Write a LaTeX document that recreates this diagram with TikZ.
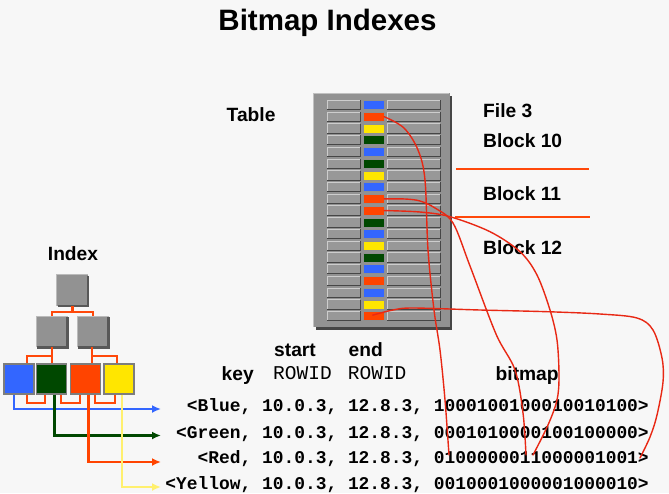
\documentclass[tikz,border=0pt]{standalone}
\usepackage{fontspec}
\setmainfont{Liberation Sans}
\setmonofont{Liberation Mono}
\usetikzlibrary{calc,arrows.meta}

\definecolor{bg}{RGB}{247,247,247}
\definecolor{panel}{RGB}{146,146,146}
\definecolor{slot}{RGB}{152,152,152}
\definecolor{slotlight}{RGB}{205,205,205}
\definecolor{slotdark}{RGB}{70,70,70}
\definecolor{kblue}{RGB}{51,102,255}
\definecolor{kgreen}{RGB}{0,72,0}
\definecolor{kred}{RGB}{255,68,0}
\definecolor{kyellow}{RGB}{255,230,0}
\definecolor{kyellowline}{RGB}{255,240,110}
\definecolor{link}{RGB}{255,72,10}
\definecolor{ink}{RGB}{232,40,20}

\begin{document}
\begin{tikzpicture}[x=1pt,y=-1pt,
  title/.style={font=\fontsize{29.5}{34}\selectfont\bfseries, inner sep=0, anchor=base},
  lbl/.style={font=\fontsize{19.2}{23}\selectfont\bfseries, inner sep=0, anchor=base west},
  monolbl/.style={font=\fontsize{19.5}{23}\selectfont\ttfamily, inner sep=0, anchor=base west},
  entry/.style={font=\fontsize{17.9}{21}\selectfont\ttfamily\bfseries, inner sep=0, anchor=base east},
  slotbox/.style={fill=slot, inner sep=0, minimum height=9pt},
  keycell/.style={inner sep=0, minimum width=20.5pt, minimum height=9pt, draw=slotdark!60, line width=0.6pt},
  greysq/.style={fill=panel, inner sep=0, minimum size=31pt},
  leaf/.style={draw={rgb,255:red,125;green,125;blue,125}, line width=1.6pt, inner sep=0, minimum size=30pt},
  treelink/.style={draw=link, line width=2.1pt},
  ptr/.style={line width=2.2pt, -{Latex[length=9pt,width=8pt]}},
  scribble/.style={draw=ink, line width=1.4pt, line cap=round, smooth, tension=0.55},
  blockline/.style={draw=link, line width=2.2pt}
]
\useasboundingbox[fill=bg] (0,0) rectangle (669,493);

% title
\node[title] (ttl) at (327.5,30) {Bitmap Indexes};

% ---------- table panel ----------
\fill[slotdark] (315.5,95.5) rectangle (452,329.5);
\fill[panel] (313,93) rectangle (449.5,327);
\draw[slotlight!80!panel, line width=0.8pt] (313.4,326.6) -- (313.4,93.4) -- (449.1,93.4);
\node[lbl] (tbl) at (226.5,121.7) {Table};

\foreach \c [count=\i from 0] in {kblue,kred,kyellow,kgreen,kblue,kgreen,kyellow,kblue,kred,kred,kgreen,kblue,kyellow,kgreen,kblue,kred,kblue,kyellow,kred}{
  \pgfmathsetmacro{\ry}{105+11.73*\i}
  % grey slots left and right of the key
  \node[slotbox, minimum width=32.7pt] (ls\i) at (343.6,\ry) {};
  \node[slotbox, minimum width=52.7pt] (rs\i) at (413.6,\ry) {};
  \foreach \s in {ls\i,rs\i}{
    \draw[slotlight, line width=0.8pt] (\s.south west) -- (\s.north west) -- (\s.north east);
    \draw[slotdark, line width=1pt] (\s.north east) -- (\s.south east) -- (\s.south west);
  }
  \node[keycell, fill=\c] (c\i) at (373.7,\ry) {};
}

% block labels and separators
\node[lbl] (f3) at (483,117.3) {File 3};
\node[lbl] (b10) at (483,147.3) {Block 10};
\node[lbl] (b11) at (483,200.7) {Block 11};
\node[lbl] (b12) at (483,254) {Block 12};
\draw[blockline] (456,169.3) -- (589,169.3);
\draw[blockline] (455,216.7) -- (590,216.7);

% ---------- index tree ----------
\node[lbl, anchor=base] (idx) at (73,260.7) {Index};
\node[greysq] (root) at (72.5,290.5) {};
\node[greysq] (na) at (51.8,331.7) {};
\node[greysq] (nb) at (92.8,331.7) {};
\foreach \n in {root,na,nb}{
  \draw[slotdark!90, line width=2.2pt] ($(\n.north east)+(0,1)$) -- ($(\n.south east)+(0,0)$) -- ($(\n.south west)+(1,0)$);
  \draw[slotlight!70!panel, line width=0.7pt] (\n.south west) -- (\n.north west) -- (\n.north east);
}
\node[leaf, fill=kblue] (lb) at (18.7,378.8) {};
\node[leaf, fill=kgreen] (lg) at (51.4,378.8) {};
\node[leaf, fill=kred] (lr) at (85.4,378.8) {};
\node[leaf, fill=kyellow] (ly) at (119.2,378.8) {};

% tree links
\draw[treelink] (root.south) -- ++(0,5.7) -| (na.north);
\draw[treelink] (root.south) -- ++(0,5.7) -| (nb.north);
\draw[treelink] (na.south) -- ++(0,8.5) -| ($(lb.north)+(8,0)$);
\draw[treelink] (na.south) -- (na.south |- lg.north);
\draw[treelink] ($(nb.south)+(-1,0)$) -- ($(nb.south |- lr.north)+(-1,0)$);
\draw[treelink] ($(nb.south)+(-1,0)$) -- ++(0,8.5) -| ($(ly.north)+(-2.5,0)$);
% sibling links between leaves
\draw[treelink] ($(lb.south)+(8,0)$) -- ++(0,8.3) -| ($(lg.south)+(-6.3,0)$);
\draw[treelink] ($(lg.south)+(9.7,0)$) -- ++(0,8.3) -| ($(lr.south)+(-5.3,0)$);
\draw[treelink] ($(lr.south)+(9.7,0)$) -- ++(0,8.3) -| ($(ly.south)+(-4.2,0)$);

% ---------- bitmap entries ----------
\node[lbl] (hstart) at (274,356.7) {start};
\node[lbl] (hend) at (348.5,356.7) {end};
\node[lbl] (hkey) at (221.5,380) {key};
\node[monolbl] (hr1) at (273,379.3) {ROWID};
\node[monolbl] (hr2) at (347.7,379.3) {ROWID};
\node[lbl] (hbit) at (495.5,380) {bitmap};

\node[entry] (eblue) at (649,411.7) {<Blue, 10.0.3, 12.8.3, 1000100100010010100>};
\node[entry] (egreen) at (649,438.3) {<Green, 10.0.3, 12.8.3, 0001010000100100000>};
\node[entry] (ered) at (649,463.6) {<Red, 10.0.3, 12.8.3, 0100000011000001001>};
\node[entry] (eyellow) at (649,489.3) {<Yellow, 10.0.3, 12.8.3, 0010001000001000010>};

% pointers from the leaves to the entries
\coordinate (pb) at (161,409);
\coordinate (pg) at (161,435.5);
\coordinate (pr) at (161,462);
\coordinate (py) at (161,487);
\draw[ptr, draw=kblue] ($(lb.south)+(-4.7,0)$) |- (pb);
\draw[ptr, draw=kgreen] ($(lg.south)+(3,0)$) |- (pg);
\draw[ptr, draw=kred] ($(lr.south)+(3,0)$) |- (pr);
\draw[ptr, draw=kyellowline, line width=1.8pt] ($(ly.south)+(3,0)$) |- (py);

% hand-drawn marks from red rows to their bits
\coordinate (bit1) at (449,455);
\coordinate (bit8) at (526,455);
\coordinate (bit9) at (533,455);
\coordinate (bit18) at (640,458);
\draw[scribble] plot coordinates {(c1.east) (404,128) (418,150) (425,180) (428,250) (434,310) (440,350) (445,400) (bit1)};
\draw[scribble] plot coordinates {(c8.east) (405,199) (420,201) (435,208) (453,223) (470,266) (496,334) (515,370) (523,413) (bit8)};
\draw[scribble] plot coordinates {(c9.east) (420,212) (450,216.7) (490,231.7) (520,251.7) (537,275) (550,310) (557,340) (559,376) (557,400) (548,425) (bit9)};
\draw[scribble] plot coordinates {($(c18.center)+(-1,-1)$) (393,310) (413,308) (480,310) (547,311.7) (600,314) (637,318) (653,330) (662,358) (663,382) (657,415) (650,437) (bit18)};
\end{tikzpicture}
\end{document}
